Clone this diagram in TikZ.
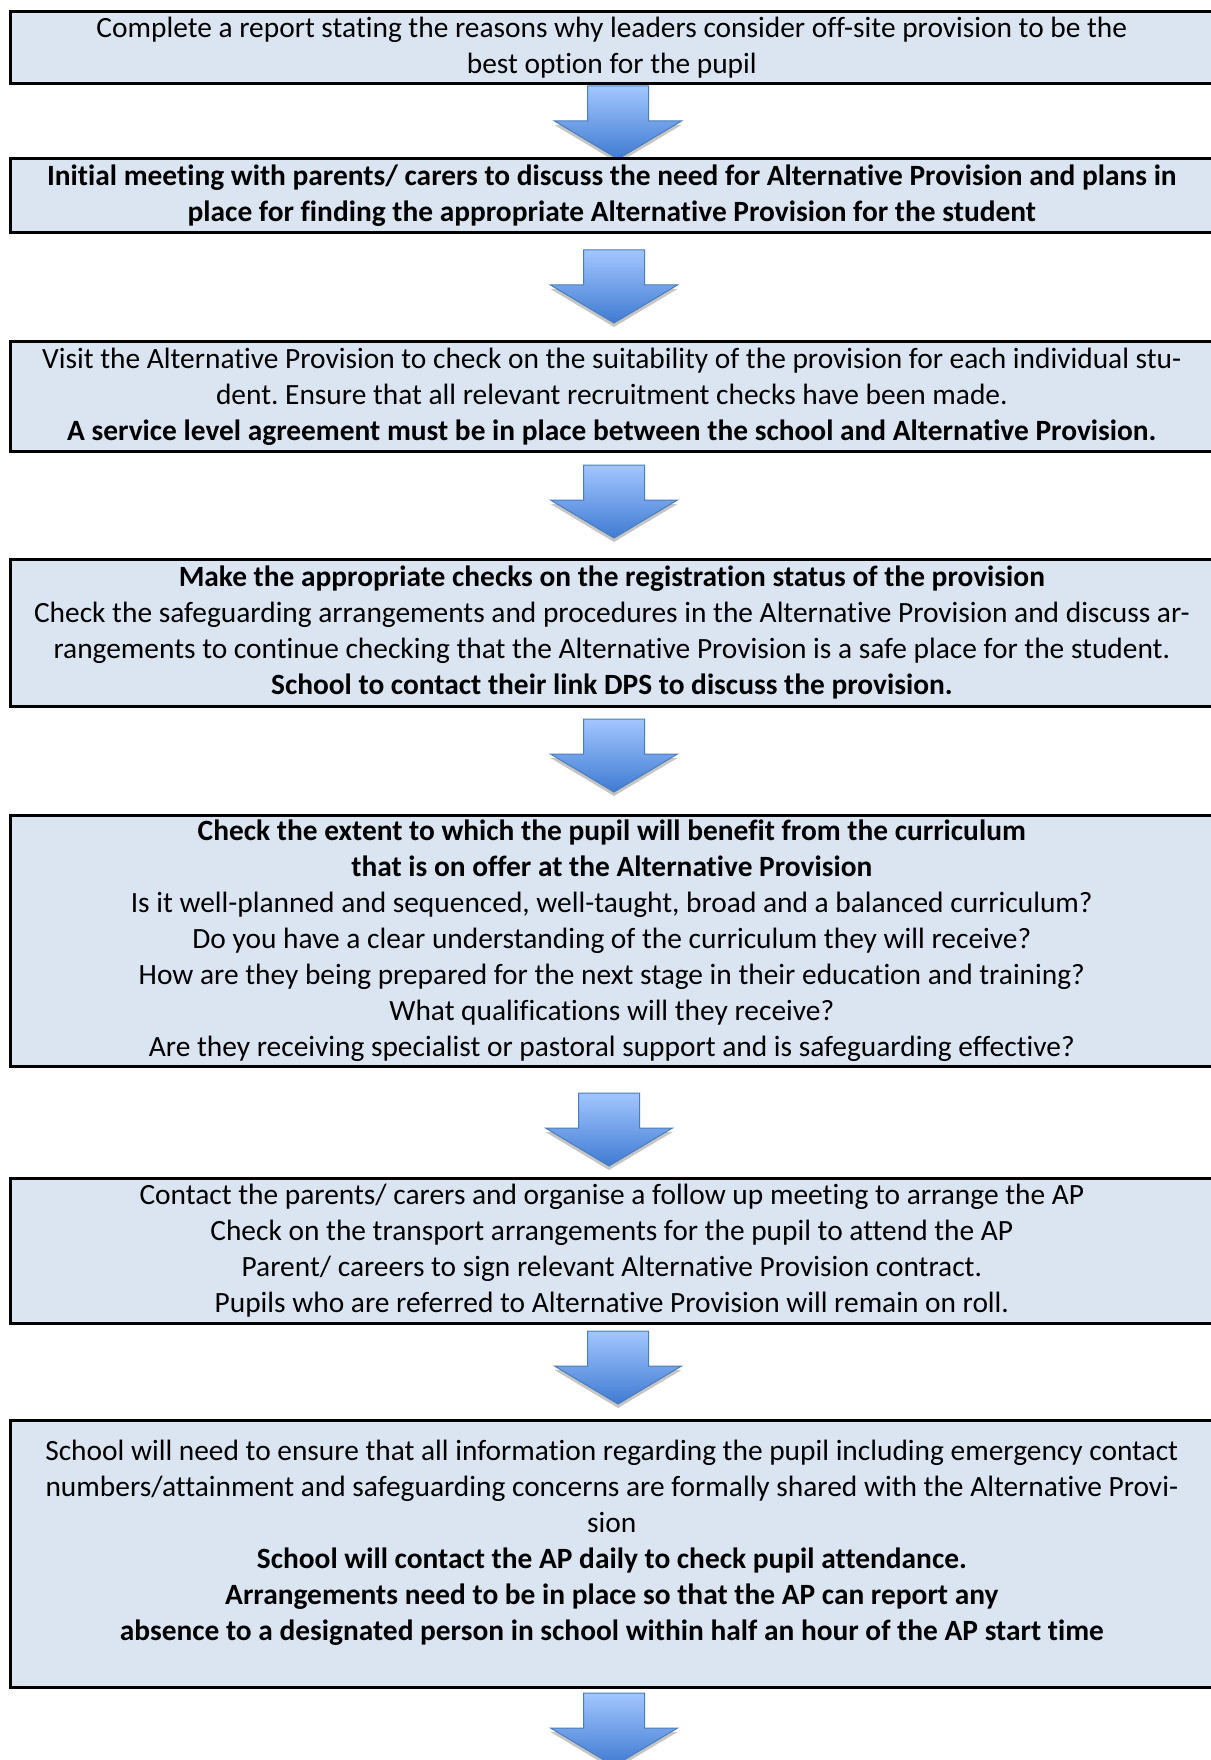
\documentclass[tikz,border=0pt]{standalone}
\usepackage{fontspec}
\setmainfont{Carlito}[Ligatures={NoCommon}]
\frenchspacing
\definecolor{boxfill}{HTML}{DBE5F1}
\definecolor{arrtop}{HTML}{A3C6FF}
\definecolor{arrbot}{HTML}{3F7BD2}
\definecolor{arrline}{HTML}{4A7EBB}
\tikzset{
  flowbox/.style={draw=black, line width=2.6pt, fill=boxfill, rectangle,
    anchor=north west, minimum width=1203pt, inner sep=0pt, align=center,
    font=\fontsize{29.4}{36}\selectfont},
  arrowbody/.style={draw=arrline, line width=1pt, top color=arrtop,
    bottom color=arrbot, line join=miter},
  arrowshadow/.style={fill=black!50, opacity=0.45},
}
\newcommand\flowarrow[1]{%
  \path[arrowshadow] ([yshift=-4pt]#1) ++(-30.5,0) -- ++(61,0) -- ++(0,35)
    -- ++(33,0) -- ++(-63.5,38) -- ++(-63.5,-38) -- ++(33,0) -- cycle;
  \path[arrowbody] (#1) ++(-30.5,0) -- ++(61,0) -- ++(0,35)
    -- ++(33,0) -- ++(-63.5,38) -- ++(-63.5,-38) -- ++(33,0) -- cycle;
}
\begin{document}
\begin{tikzpicture}[x=1pt,y=-1pt]
\fill[white] (0,0) rectangle (1210,1760);
\useasboundingbox (0,0) rectangle (1210,1760);

\coordinate (a1) at (618,86);
\coordinate (a2) at (614,250);
\coordinate (a3) at (614,465);
\coordinate (a4) at (614,719);
\coordinate (a5) at (609,1093);
\coordinate (a6) at (618,1331);
\coordinate (a7) at (614,1693);

\flowarrow{a1}
\flowarrow{a2}
\flowarrow{a3}
\flowarrow{a4}
\flowarrow{a5}
\flowarrow{a6}
\flowarrow{a7}

\node[flowbox, minimum height=72pt] (b1) at (9,10)
  {Complete a report stating the reasons why leaders consider off-site provision to be the\\
   best option for the pupil};

\node[flowbox, minimum height=74pt] (b2) at (9,157)
  {\textbf{Initial meeting with parents/ carers to discuss the need for Alternative Provision and plans in}\\
   \textbf{place for finding the appropriate Alternative Provision for the student}};

\node[flowbox, minimum height=110pt] (b3) at (9,340)
  {Visit the Alternative Provision to check on the suitability of the provision for each individual stu-\\
   dent. Ensure that all relevant recruitment checks have been made.\\
   \textbf{A service level agreement must be in place between the school and Alternative Provision.}};

\node[flowbox, minimum height=147pt] (b4) at (9,558)
  {\textbf{Make the appropriate checks on the registration status of the provision}\\
   Check the safeguarding arrangements and procedures in the Alternative Provision and discuss ar-\\
   rangements to continue checking that the Alternative Provision is a safe place for the student.\\
   \textbf{School to contact their link DPS to discuss the provision.}};

\node[flowbox, minimum height=251pt] (b5) at (9,814)
  {\textbf{Check the extent to which the pupil will benefit from the curriculum}\\
   \textbf{that is on offer at the Alternative Provision}\\
   Is it well-planned and sequenced, well-taught, broad and a balanced curriculum?\\
   Do you have a clear understanding of the curriculum they will receive?\\
   How are they being prepared for the next stage in their education and training?\\
   What qualifications will they receive?\\
   Are they receiving specialist or pastoral support and is safeguarding effective?};

\node[flowbox, minimum height=145pt] (b6) at (9,1177)
  {Contact the parents/ carers and organise a follow up meeting to arrange the AP\\
   Check on the transport arrangements for the pupil to attend the AP\\
   Parent/ careers to sign relevant Alternative Provision contract.\\
   Pupils who are referred to Alternative Provision will remain on roll.};

\node[flowbox, minimum height=267pt] (b7) at (9,1419)
  {School will need to ensure that all information regarding the pupil including emergency contact\\
   numbers/attainment and safeguarding concerns are formally shared with the Alternative Provi-\\
   sion\\
   \textbf{School will contact the AP daily to check pupil attendance.}\\
   \textbf{Arrangements need to be in place so that the AP can report any}\\
   \textbf{absence to a designated person in school within half an hour of the AP start time}\\[-8pt]~};
\end{tikzpicture}
\end{document}
